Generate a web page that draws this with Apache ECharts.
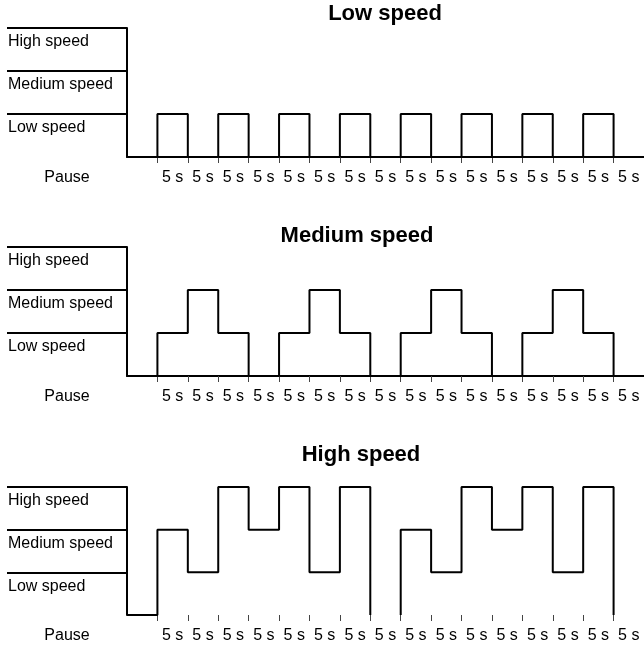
<!DOCTYPE html>
<html>
<head>
<meta charset="utf-8">
<script src="https://cdn.jsdelivr.net/npm/echarts@6/dist/echarts.min.js"></script>
<style>
  html, body { margin: 0; padding: 0; background: #fff; }
  #main { width: 644px; height: 645px; }
</style>
</head>
<body>
<div id="main"></div>
<script>
// speed levels, bottom to top
var levelNames = ["Pause", "Low speed", "Medium speed", "High speed"];
// one label per 5 s step (first step unlabelled)
var stepLabels = ["", "5 s", "5 s", "5 s", "5 s", "5 s", "5 s", "5 s", "5 s",
  "5 s", "5 s", "5 s", "5 s", "5 s", "5 s", "5 s", "5 s"];
var panelTitles = ["Low speed", "Medium speed", "High speed"];

// level held during each step (null = pause with no trace drawn)
var lowSpeedSteps = ["Pause", "Low speed", "Pause", "Low speed", "Pause", "Low speed",
  "Pause", "Low speed", "Pause", "Low speed", "Pause", "Low speed", "Pause",
  "Low speed", "Pause", "Low speed", "Pause"];
var mediumSpeedSteps = ["Pause", "Low speed", "Medium speed", "Low speed", "Pause",
  "Low speed", "Medium speed", "Low speed", "Pause", "Low speed", "Medium speed",
  "Low speed", "Pause", "Low speed", "Medium speed", "Low speed", "Pause"];
var highSpeedSteps = ["Pause", "Medium speed", "Low speed", "High speed", "Medium speed",
  "High speed", "Low speed", "High speed", null, "Medium speed", "Low speed",
  "High speed", "Medium speed", "High speed", "Low speed", "High speed", null];

var panelSteps = [lowSpeedSteps, mediumSpeedSteps, highSpeedSteps];

var FONT = "Liberation Sans, Arial, Helvetica, sans-serif";
var panelTop = [28, 247, 487];
var panelHeight = [129, 129, 128];
var titleTop = [3, 225, 444];
var titleCenter = [385, 357, 361];

function stepPoints(steps) {
  var pts = [];
  steps.forEach(function (name, i) {
    if (name === null) {
      pts.push([i, 0], [i + 0.5, "-"]);
      return;
    }
    var y = levelNames.indexOf(name);
    if (i > 0 && steps[i - 1] === null) pts.push([i, 0]);
    pts.push([i, y], [i + 1, y]);
  });
  return pts;
}

var myChart = echarts.init(document.getElementById("main"));

var option = {
  animation: false,
  backgroundColor: "#fff",
  textStyle: { fontFamily: FONT },
  title: [],
  grid: [],
  xAxis: [],
  yAxis: [],
  series: []
};

panelSteps.forEach(function (steps, p) {
  option.title.push({
    text: panelTitles[p],
    left: titleCenter[p],
    top: titleTop[p],
    padding: 0,
    textAlign: "center",
    textStyle: { fontFamily: FONT, fontSize: 22, fontWeight: "bold", color: "#000" }
  });
  // plot area and label column
  option.grid.push(
    { left: 127, right: 0, top: panelTop[p], height: panelHeight[p] },
    { left: 7, width: 120, top: panelTop[p], height: panelHeight[p] }
  );
  option.xAxis.push(
    {
      type: "value", gridIndex: 2 * p, min: 0, max: 17,
      axisLine: { show: p < 2, lineStyle: { color: "#000", width: 2 } },
      axisTick: { show: false }, axisLabel: { show: false }, splitLine: { show: false }
    },
    {
      type: "category", gridIndex: 2 * p, position: "bottom", data: stepLabels,
      axisLine: { show: false },
      axisTick: {
        show: true, length: 6,
        interval: function (i) { return i > 0; },
        lineStyle: { color: "#444", width: 1 }
      },
      axisLabel: { interval: 0, margin: 13, fontSize: 16, color: "#000", fontFamily: FONT }
    },
    {
      type: "category", gridIndex: 2 * p + 1, position: "bottom", data: ["Pause"],
      axisLine: { show: false }, axisTick: { show: false },
      axisLabel: { margin: 13, fontSize: 16, color: "#000", fontFamily: FONT }
    }
  );
  option.yAxis.push(
    {
      type: "value", gridIndex: 2 * p, min: 0, max: 3, interval: 1,
      axisLine: { show: true, lineStyle: { color: "#000", width: 2 } },
      axisTick: { show: false }, axisLabel: { show: false }, splitLine: { show: false }
    },
    {
      type: "category", gridIndex: 2 * p + 1, data: levelNames, boundaryGap: false,
      axisLine: { show: false }, axisTick: { show: false },
      splitLine: {
        show: true,
        interval: function (i) { return i > 0; },
        lineStyle: { color: "#000", width: 2 }
      },
      axisLabel: {
        inside: true, margin: 1, align: "left", verticalAlign: "top",
        padding: [6, 0, 0, 0],
        interval: function (i) { return i > 0; },
        fontSize: 16, color: "#000", fontFamily: FONT
      }
    }
  );
  option.series.push({
    type: "line",
    xAxisIndex: 3 * p,
    yAxisIndex: 2 * p,
    data: stepPoints(steps),
    showSymbol: false,
    clip: false,
    silent: true,
    lineStyle: { color: "#000", width: 2 }
  });
});

myChart.setOption(option);
</script>
</body>
</html>
